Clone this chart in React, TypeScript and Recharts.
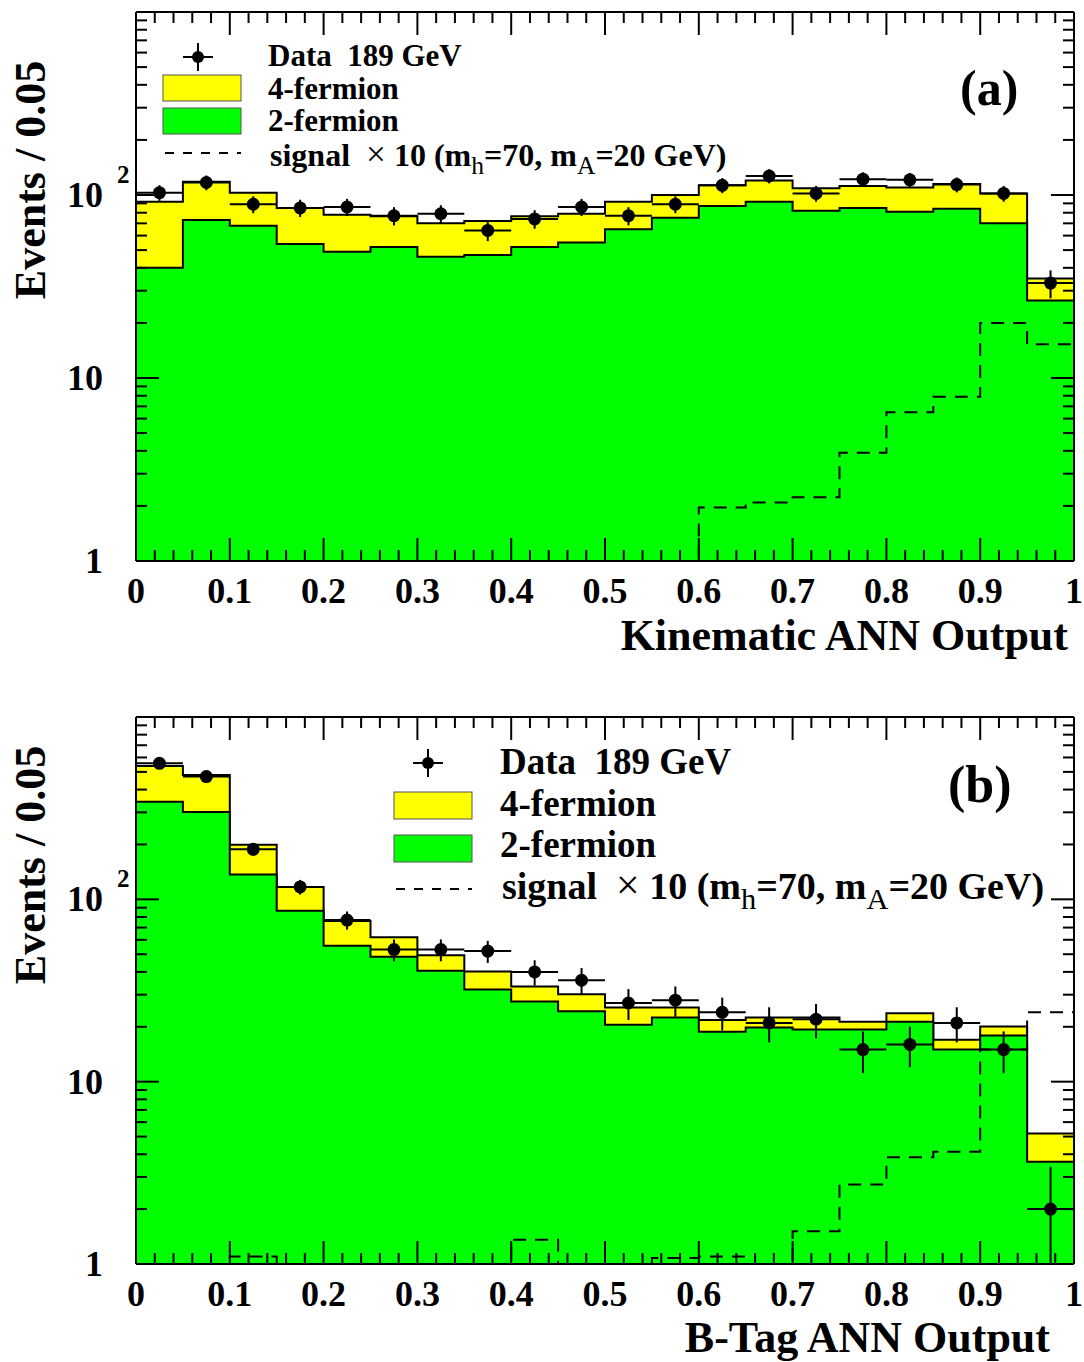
import React from "react";
import { ComposedChart, Area, Line, Scatter, ErrorBar, XAxis, YAxis } from "recharts";

const SERIF = "'Liberation Serif', 'Times New Roman', serif";

// lower edges of the 20 bins (width 0.05)
const binLow = [0, 0.05, 0.1, 0.15, 0.2, 0.25, 0.3, 0.35, 0.4, 0.45, 0.5, 0.55, 0.6, 0.65, 0.7, 0.75, 0.8, 0.85, 0.9, 0.95];
const BIN_WIDTH = 0.05;

// (a) kinematic ANN output
const kinTotal = [92, 118, 103, 85, 78, 76.5, 70, 72, 76.5, 79, 92, 100, 113, 120, 109, 112, 110, 115, 102, 35];
const kinTwoFermion = [40, 73, 68, 54, 49, 52, 46, 47, 52, 55, 65, 75, 87, 92, 82, 85, 81, 84, 70, 26.5];
const kinSignal = [0.4, 0.4, 0.4, 0.4, 0.4, 0.4, 0.4, 0.4, 0.4, 0.5, 0.5, 0.6, 1.96, 2.09, 2.23, 3.91, 6.5, 7.9, 20, 15.3];
const kinData = [103, 117, 89, 85, 86, 77, 79, 64, 74, 86, 77, 89, 113, 127, 102, 122, 121, 114, 102, 33];

// (b) b-tag ANN output
const btagTotal = [539, 481, 199, 117, 76, 62, 49.4, 40.2, 33.3, 30.2, 25.5, 25.5, 21.8, 22.5, 22.5, 21.3, 23.7, 17, 20.1, 5.2];
const btagTwoFermion = [343, 301, 137, 86.5, 55.6, 48.4, 40.6, 32, 27.5, 24.3, 20.5, 22.5, 18.8, 19.8, 19.3, 19.3, 21.3, 15, 17.9, 3.64];
const btagSignal = [0.5, 0.6, 1.1, 0.7, 0.7, 0.7, 0.8, 0.8, 1.36, 0.8, 0.9, 1.08, 1.1, 0.9, 1.51, 2.73, 3.85, 4.13, 15, 24];
const btagData = [557, 471, 188, 117, 77, 53, 53, 52, 40, 36, 27, 28, 24, 21, 22, 15, 16, 21, 15, 2];

// axis ticks
const xMajorTicks = [0, 0.1, 0.2, 0.3, 0.4, 0.5, 0.6, 0.7, 0.8, 0.9, 1];
const xMinorTicks = Array.from({ length: 51 }, (_, i) => i / 50).filter((_, i) => i % 5 !== 0);
const yMajorTicks = [1, 10, 100, 1000];
const yMinorTicks = [2, 3, 4, 5, 6, 7, 8, 9, 20, 30, 40, 50, 60, 70, 80, 90, 200, 300, 400, 500, 600, 700, 800, 900];
const Y_MIN = 1;

// step rows: one per bin edge, last bin repeated at x = 1
const buildSteps = (total: number[], twoF: number[], signal: number[]) => {
  const rows = binLow.map((x, i) => ({ x, total: total[i], twoF: twoF[i], signal: signal[i] }));
  const n = binLow.length - 1;
  rows.push({ x: 1, total: total[n], twoF: twoF[n], signal: signal[n] });
  return rows;
};

// data points at bin centres, Poisson errors (lower bar stops at the frame)
const buildPoints = (data: number[]) =>
  binLow.map((x, i) => {
    const err = Math.sqrt(data[i]);
    return { x: x + BIN_WIDTH / 2, y: data[i], ey: [Math.min(err, data[i] - Y_MIN), err], ex: BIN_WIDTH / 2 };
  });

const XTick = (props: any) => {
  const { x, y, payload } = props;
  return (
    <text x={x} y={y + 23 + 42} textAnchor="middle" fontFamily={SERIF} fontWeight="bold" fontSize={36} fill="#000">
      {String(payload.value)}
    </text>
  );
};

const YTick = (props: any) => {
  const { x, y, payload } = props;
  const v = payload.value;
  const right = x - 56;
  const style = { fontFamily: SERIF, fontWeight: "bold" as const, fill: "#000" };
  if (v === 1 || v === 10) {
    return (
      <text x={right} y={y + 12} textAnchor="end" fontSize={36} {...style}>
        {String(v)}
      </text>
    );
  }
  if (v === 100) {
    return (
      <g>
        <text x={right} y={y + 12} textAnchor="end" fontSize={36} {...style}>
          10
        </text>
        <text x={right + 14} y={y - 12} fontSize={25} {...style}>
          2
        </text>
      </g>
    );
  }
  return <g />;
};

const NoTick = () => <g />;

const frame = { stroke: "#000", strokeWidth: 2 };

interface PanelProps {
  steps: ReturnType<typeof buildSteps>;
  points: ReturnType<typeof buildPoints>;
  height: number;
  top: number;
  bottom: number;
}

// every axis is 1px thick (a 0px axis is not drawn), margins make up the rest
const Panel: React.FC<PanelProps> = ({ steps, points, height, top, bottom }) => (
  <ComposedChart width={1084} height={height} data={steps} margin={{ top, right: 8, bottom, left: 134 }}>
    <Area
      xAxisId="x"
      yAxisId="y"
      dataKey="total"
      type="stepAfter"
      baseValue={1}
      fill="#ffff00"
      fillOpacity={1}
      stroke="#000"
      strokeWidth={2}
      dot={false}
      activeDot={false}
      isAnimationActive={false}
    />
    <Area
      xAxisId="x"
      yAxisId="y"
      dataKey="twoF"
      type="stepAfter"
      baseValue={1}
      fill="#00ff00"
      fillOpacity={1}
      stroke="#000"
      strokeWidth={2}
      dot={false}
      activeDot={false}
      isAnimationActive={false}
    />
    <Line
      xAxisId="x"
      yAxisId="y"
      dataKey="signal"
      type="stepAfter"
      stroke="#000"
      strokeWidth={2}
      strokeDasharray="13 9"
      dot={false}
      activeDot={false}
      isAnimationActive={false}
    />
    <Scatter
      xAxisId="x"
      yAxisId="y"
      data={points}
      dataKey="y"
      isAnimationActive={false}
      shape={(p: any) => <circle cx={p.cx} cy={p.cy} r={6.5} fill="#000" />}
    >
      <ErrorBar dataKey="ey" direction="y" width={0} stroke="#000" strokeWidth={2} isAnimationActive={false} />
      <ErrorBar dataKey="ex" direction="x" width={0} stroke="#000" strokeWidth={2} isAnimationActive={false} />
    </Scatter>

    {/* invisible series so the tick-only axes get a scale */}
    <Line xAxisId="xm" yAxisId="ym" dataKey="total" stroke="none" dot={false} activeDot={false} isAnimationActive={false} />
    <Line xAxisId="xt" yAxisId="yr" dataKey="total" stroke="none" dot={false} activeDot={false} isAnimationActive={false} />
    <Line xAxisId="xtm" yAxisId="yrm" dataKey="total" stroke="none" dot={false} activeDot={false} isAnimationActive={false} />

    {/* bottom axis with labels, plus minor ticks */}
    <XAxis
      xAxisId="x"
      dataKey="x"
      type="number"
      domain={[0, 1]}
      allowDataOverflow
      ticks={xMajorTicks}
      interval={0}
      height={1}
      tickSize={-23}
      tickMargin={0}
      tick={XTick}
      axisLine={frame}
      tickLine={frame}
    />
    <XAxis xAxisId="xm" dataKey="x" type="number" domain={[0, 1]} allowDataOverflow ticks={xMinorTicks} interval={0}
      height={1} tickSize={-12} tick={NoTick} axisLine={false} tickLine={frame} />
    {/* top axis */}
    <XAxis xAxisId="xt" dataKey="x" orientation="top" type="number" domain={[0, 1]} allowDataOverflow ticks={xMajorTicks}
      interval={0} height={1} tickSize={-23} tick={NoTick} axisLine={frame} tickLine={frame} />
    <XAxis xAxisId="xtm" dataKey="x" orientation="top" type="number" domain={[0, 1]} allowDataOverflow ticks={xMinorTicks}
      interval={0} height={1} tickSize={-12} tick={NoTick} axisLine={false} tickLine={frame} />

    {/* left axis with labels, plus minor ticks */}
    <YAxis
      yAxisId="y"
      type="number"
      scale="log"
      domain={[1, 1000]}
      allowDataOverflow
      ticks={yMajorTicks}
      interval={0}
      width={1}
      tickSize={-23}
      tickMargin={0}
      tick={YTick}
      axisLine={frame}
      tickLine={frame}
    />
    <YAxis yAxisId="ym" type="number" scale="log" domain={[1, 1000]} allowDataOverflow ticks={yMinorTicks} interval={0}
      width={1} tickSize={-12} tick={NoTick} axisLine={false} tickLine={frame} />
    {/* right axis */}
    <YAxis yAxisId="yr" orientation="right" type="number" scale="log" domain={[1, 1000]} allowDataOverflow ticks={yMajorTicks}
      interval={0} width={1} tickSize={-23} tick={NoTick} axisLine={frame} tickLine={frame} />
    <YAxis yAxisId="yrm" orientation="right" type="number" scale="log" domain={[1, 1000]} allowDataOverflow ticks={yMinorTicks}
      interval={0} width={1} tickSize={-12} tick={NoTick} axisLine={false} tickLine={frame} />
  </ComposedChart>
);

interface LegendProps {
  mx: number;
  my: number;
  boxX: number;
  textX: number;
  rows: number[];
  boxTops: number[];
  boxH: number;
  dashY: number;
  fontSize: number;
  signalSize: number;
}

// legend drawn as svg: data marker, two filled boxes, dashed signal line
const HistLegend: React.FC<LegendProps> = ({ mx, my, boxX, textX, rows, boxTops, boxH, dashY, fontSize, signalSize }) => {
  const t = { fontFamily: SERIF, fontWeight: "bold" as const, fontSize, fill: "#000" };
  const s = { ...t, fontSize: signalSize };
  const sub = { fontWeight: "normal" as const, fontSize: signalSize * 0.8 };
  return (
    <g>
      <line x1={mx - 15} x2={mx + 15} y1={my} y2={my} stroke="#000" strokeWidth={2} />
      <line x1={mx} x2={mx} y1={my - 14} y2={my + 14} stroke="#000" strokeWidth={2} />
      <circle cx={mx} cy={my} r={6} fill="#000" />
      <text x={textX} y={rows[0]} {...t}>Data{"\u00a0\u00a0"}189 GeV</text>
      <rect x={boxX} y={boxTops[0]} width={78} height={boxH} fill="#ffff00" stroke="#555" strokeWidth={1} />
      <text x={textX} y={rows[1]} {...t}>4-fermion</text>
      <rect x={boxX} y={boxTops[1]} width={78} height={boxH} fill="#00ff00" stroke="#555" strokeWidth={1} />
      <text x={textX} y={rows[2]} {...t}>2-fermion</text>
      <line x1={boxX + 2} x2={boxX + 78} y1={dashY} y2={dashY} stroke="#000" strokeWidth={2} strokeDasharray="9 9" />
      <text x={textX + 2} y={rows[3]} {...s}>
        signal{"\u00a0\u00a0"}
        <tspan fontWeight="normal" fontSize={signalSize * 1.1}>{"\u00d7"}</tspan> 10 (m
        <tspan dy={signalSize * 0.25} {...sub}>h</tspan>
        <tspan dy={-signalSize * 0.25}>=70, m</tspan>
        <tspan dy={signalSize * 0.25} {...sub}>A</tspan>
        <tspan dy={-signalSize * 0.25}>=20 GeV)</tspan>
      </text>
    </g>
  );
};

const kinSteps = buildSteps(kinTotal, kinTwoFermion, kinSignal);
const kinPoints = buildPoints(kinData);
const btagSteps = buildSteps(btagTotal, btagTwoFermion, btagSignal);
const btagPoints = buildPoints(btagData);

export default function App() {
  const title = { fontFamily: SERIF, fontWeight: "bold" as const, fill: "#000" };
  return (
    <div style={{ position: "absolute", left: 0, top: 0, width: 1084, height: 1362, background: "#fff", overflow: "hidden" }}>
      <div style={{ position: "absolute", left: 0, top: 0 }}>
        <Panel steps={kinSteps} points={kinPoints} height={680} top={10} bottom={117} />
      </div>
      <div style={{ position: "absolute", left: 0, top: 680 }}>
        <Panel steps={btagSteps} points={btagPoints} height={682} top={35} bottom={96} />
      </div>
      <svg width={1084} height={1362} style={{ position: "absolute", left: 0, top: 0, pointerEvents: "none" }}>
        {/* panel (a) */}
        <text x={45} y={180} transform="rotate(-90 45 180)" textAnchor="middle" fontSize={44} {...title}>
          Events / 0.05
        </text>
        <text x={1068} y={650} textAnchor="end" fontSize={44} {...title}>
          Kinematic ANN Output
        </text>
        <text x={960} y={105} fontSize={50} {...title}>(a)</text>
        <HistLegend mx={198} my={57} boxX={163} textX={268} rows={[66, 99, 131, 166]} boxTops={[75, 108]} boxH={26}
          dashY={153} fontSize={31} signalSize={32} />

        {/* panel (b) */}
        <text x={45} y={865} transform="rotate(-90 45 865)" textAnchor="middle" fontSize={44} {...title}>
          Events / 0.05
        </text>
        <text x={1050} y={1352} textAnchor="end" fontSize={44} {...title}>
          B-Tag ANN Output
        </text>
        <text x={948} y={802} fontSize={52} {...title}>(b)</text>
        <HistLegend mx={428} my={763} boxX={394} textX={500} rows={[774, 816, 857, 899]} boxTops={[792, 835]} boxH={27}
          dashY={889} fontSize={37} signalSize={38} />
      </svg>
    </div>
  );
}
